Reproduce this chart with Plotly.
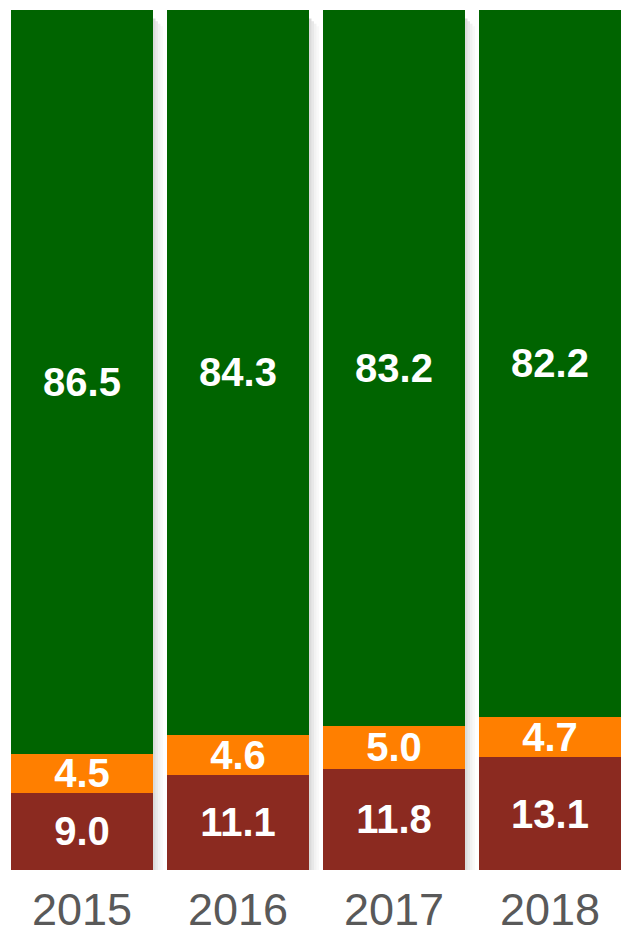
import plotly.graph_objects as go

years = ["2015", "2016", "2017", "2018"]
bottom_vals = [9.0, 11.1, 11.8, 13.1]
middle_vals = [4.5, 4.6, 5.0, 4.7]
top_vals = [86.5, 84.3, 83.2, 82.2]

colors = {"bottom": "#8B2A20", "middle": "#FF7F00", "top": "#006400"}

fig = go.Figure()
for vals, key in [(bottom_vals, "bottom"), (middle_vals, "middle"), (top_vals, "top")]:
    fig.add_trace(go.Bar(
        x=years, y=vals,
        marker=dict(color=colors[key], line=dict(width=0)),
        text=[f"{v:.1f}" for v in vals],
        textposition="inside",
        insidetextanchor="middle",
        constraintext="none",
        textfont=dict(family="Liberation Sans, Arial, sans-serif", size=40, color="white", weight="bold"),
        width=0.91,
        hoverinfo="skip",
    ))

shapes = []
# subtle shadows on the right side of each bar
for i in range(len(years)):
    for k, op in enumerate([0.22, 0.14, 0.08, 0.04]):
        shapes.append(dict(type="rect", xref="x", yref="y",
                           x0=i + 0.455 + k * 0.016, x1=i + 0.455 + (k + 1) * 0.016,
                           y0=-0.1, y1=99.0 - k * 0.3,
                           fillcolor=f"rgba(90,90,90,{op})", line=dict(width=0), layer="below"))
shapes.append(dict(type="line", xref="paper", yref="y", x0=0.006, x1=1, y0=-0.25, y1=-0.25,
                   line=dict(color="#c8c8c8", width=2)))

fig.update_layout(
    barmode="stack",
    width=621, height=934,
    margin=dict(l=0, r=0, t=10, b=64, autoexpand=False),
    plot_bgcolor="white", paper_bgcolor="white",
    showlegend=False,
    shapes=shapes,
    xaxis=dict(type="category", range=[-0.5256, 3.455], showgrid=False, zeroline=False,
               showline=False, ticks="", ticklabelstandoff=9, automargin=False,
               tickfont=dict(family="Liberation Sans, Arial, sans-serif", size=45, color="#595959")),
    yaxis=dict(range=[0, 100], visible=False, showgrid=False, zeroline=False, automargin=False),
)

fig.write_html("out.html")
